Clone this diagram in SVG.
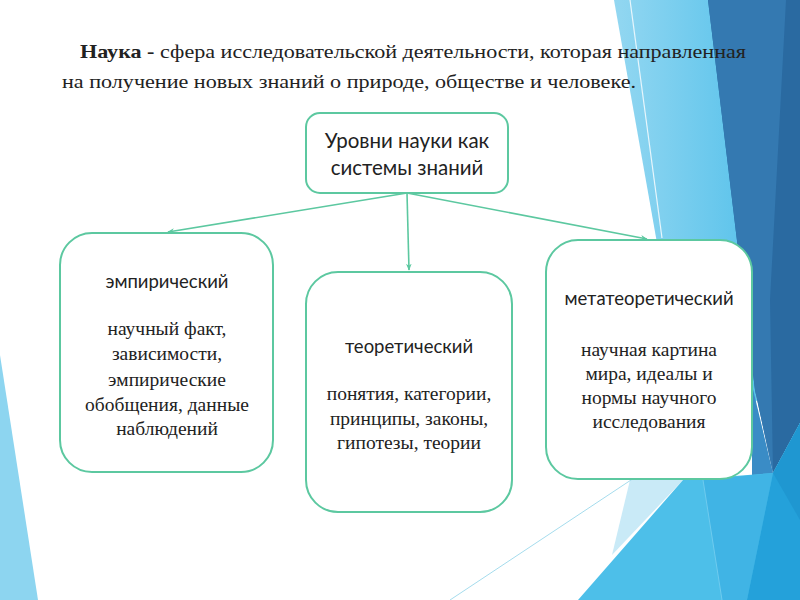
<svg xmlns="http://www.w3.org/2000/svg" width="800" height="600" viewBox="0 0 800 600">
  <defs>
    <linearGradient id="lb" x1="0" y1="0" x2="1" y2="0">
      <stop offset="0" stop-color="#93d7f1"/>
      <stop offset="1" stop-color="#58c2eb"/>
    </linearGradient>
    <marker id="arr" viewBox="0 0 10 10" refX="9" refY="5" markerWidth="7" markerHeight="7" orient="auto" markerUnits="userSpaceOnUse">
      <path d="M0,1 L10,5 L0,9 L3,5 z" fill="#5cc8a0"/>
    </marker>
    <style>
      .box { fill: #ffffff; stroke: #5cc8a0; stroke-width: 2; }
      .sans { font-family: "Lato", "Liberation Sans", sans-serif; fill: #222222; }
      .serif { font-family: "Liberation Serif", "DejaVu Serif", serif; fill: #222222; }
      .lbl { font-size: 18.5px; text-anchor: middle; }
      .body { font-size: 19.5px; text-anchor: middle; }
      .conn { stroke: #5cc8a0; stroke-width: 1.6; fill: none; marker-end: url(#arr); }
    </style>
  </defs>

  <!-- background decoration -->
  <rect x="0" y="0" width="800" height="600" fill="#ffffff"/>
  <polygon points="0,355 0,600 38,600" fill="#8dd5f0"/>
  <polygon points="614,0 710,0 757,400 700,480 660,260" fill="url(#lb)"/>
  <line x1="630" y1="0" x2="662" y2="238" stroke="#e8f6fc" stroke-width="1.2"/>
  <polygon points="708,0 800,0 800,423 773,473 755,390" fill="#2a6aa1"/>
  <polygon points="708,0 786,0 770,300 773,473 755,390" fill="#3479b1"/>
  <polygon points="752,385 773,473 752,480" fill="#3a8cc6"/>
  <polygon points="630,480 683,480 612,555" fill="#c9eaf7"/>
  <polygon points="578,600 683,480 773,473 800,423 800,600" fill="#4dbfe9"/>
  <polygon points="703,480 773,473 747,600 722,600" fill="#40b4e5"/>
  <polygon points="747,600 773,473 800,423 800,600" fill="#24a1da"/>
  <polygon points="773,473 800,423 800,520" fill="#1f97d1"/>
  <line x1="703" y1="480" x2="722" y2="600" stroke="#6fcbee" stroke-width="1"/>
  <line x1="450" y1="600" x2="634" y2="478" stroke="#a5dced" stroke-width="1"/>

  <!-- heading -->
  <text class="serif" font-size="19" x="80" y="58" textLength="666" lengthAdjust="spacingAndGlyphs"><tspan font-weight="bold">Наука -</tspan> сфера исследовательской деятельности, которая направленная</text>
  <text class="serif" font-size="19" x="62" y="88" textLength="574" lengthAdjust="spacingAndGlyphs">на получение новых знаний о природе, обществе и человеке.</text>

  <!-- connectors -->
  <g id="connectors">
    <line class="conn" x1="407" y1="193" x2="168" y2="232"/>
    <line class="conn" x1="407" y1="193" x2="409" y2="270"/>
    <line class="conn" x1="407" y1="193" x2="647" y2="239"/>
  </g>

  <!-- nodes -->
  <g id="root">
    <rect class="box" x="306" y="113" width="202" height="80" rx="14"/>
    <text class="sans" font-size="20.5" text-anchor="middle" x="407" y="148">Уровни науки как</text>
    <text class="sans" font-size="20.5" text-anchor="middle" x="407" y="175">системы знаний</text>
  </g>

  <g id="empirical">
    <rect class="box" x="60" y="233" width="213" height="239" rx="32"/>
    <text class="sans lbl" x="167" y="288">эмпирический</text>
    <text class="serif body" x="167" y="335">научный факт,</text>
    <text class="serif body" x="167" y="360">зависимости,</text>
    <text class="serif body" x="167" y="386">эмпирические</text>
    <text class="serif body" x="167" y="411">обобщения, данные</text>
    <text class="serif body" x="167" y="435">наблюдений</text>
  </g>

  <g id="theoretical">
    <rect class="box" x="306" y="272" width="206" height="240" rx="32"/>
    <text class="sans lbl" x="409" y="353">теоретический</text>
    <text class="serif body" x="409" y="400">понятия, категории,</text>
    <text class="serif body" x="409" y="425">принципы, законы,</text>
    <text class="serif body" x="409" y="449">гипотезы, теории</text>
  </g>

  <g id="metatheoretical">
    <rect class="box" x="546" y="240" width="206" height="239" rx="32"/>
    <text class="sans lbl" x="649" y="305">метатеоретический</text>
    <text class="serif body" x="649" y="356">научная картина</text>
    <text class="serif body" x="649" y="380">мира, идеалы и</text>
    <text class="serif body" x="649" y="404">нормы научного</text>
    <text class="serif body" x="649" y="428">исследования</text>
  </g>
</svg>
